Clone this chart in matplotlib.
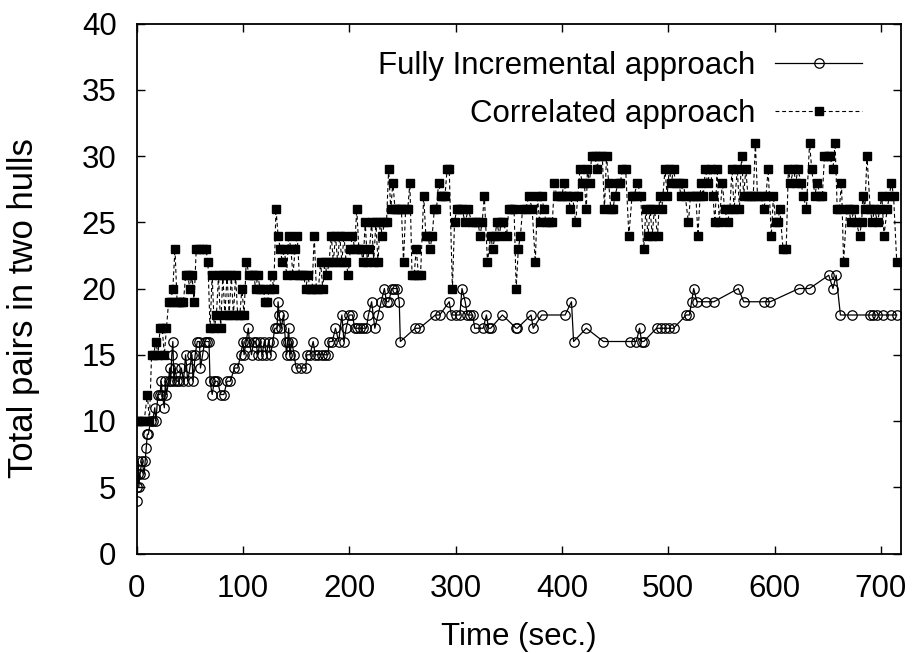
import matplotlib
matplotlib.use("Agg")
import matplotlib.pyplot as plt

plt.rcParams['font.family'] = ['Liberation Sans', 'DejaVu Sans']

# Fully Incremental approach (time, pairs)
inc_t = [0, 0.5, 1, 1.5, 2, 3, 5, 7, 8, 9, 10, 11, 13, 15, 17, 18, 20, 22, 23, 24, 26, 27, 28, 30, 31, 32, 33, 34, 35, 36,
         38, 40, 42, 44, 46, 48, 50, 52, 53, 55, 57, 59, 60, 62, 64, 66, 68, 69, 71, 73, 74, 76, 79, 82, 85, 88, 92, 95, 98, 100,
         101, 103, 105, 106, 108, 110, 112, 114, 116, 118, 120, 122, 124, 126, 128, 130, 132, 133, 134, 136, 138, 140, 141, 142, 143, 144, 146, 148, 150, 155,
         159, 160, 163, 166, 168, 171, 174, 177, 180, 181, 184, 187, 190, 193, 195, 197, 200, 203, 205, 207, 210, 213, 216, 218, 221, 224, 227, 230, 233, 235,
         237, 240, 242, 245, 247, 248, 262, 266, 281, 285, 294, 296, 300, 304, 306, 309, 311, 314, 316, 318, 326, 329, 331, 333, 344, 357, 358, 371, 373, 381,
         403, 409, 411, 423, 439, 464, 470, 473, 475, 477, 489, 493, 497, 501, 505, 517, 520, 522, 524, 527, 536, 543, 566, 571, 590, 596, 623, 633, 651, 655,
         658, 662, 673, 690, 693, 696, 702, 710, 715]
inc_v = [4, 5, 6, 7, 5, 6, 7, 6, 7, 8, 9, 9, 10, 10, 11, 10, 12, 12, 13, 12, 11, 13, 12, 13, 14, 13, 15, 16, 13, 14,
         13, 13, 14, 13, 15, 13, 14, 15, 13, 15, 16, 16, 14, 15, 16, 16, 16, 13, 12, 13, 13, 13, 12, 12, 13, 13, 14, 14, 15, 16,
         15, 16, 17, 16, 15, 16, 16, 15, 16, 15, 16, 15, 16, 15, 16, 17, 17, 19, 18, 17, 18, 16, 15, 16, 17, 15, 16, 15, 14, 14,
         14, 15, 15, 16, 15, 15, 15, 15, 15, 16, 16, 17, 16, 18, 16, 17, 18, 18, 17, 17, 17, 17, 17, 18, 19, 17, 18, 19, 20, 19,
         19, 20, 20, 20, 19, 16, 17, 17, 18, 18, 19, 18, 18, 18, 20, 19, 18, 18, 18, 17, 17, 18, 17, 17, 18, 17, 17, 18, 17, 18,
         18, 19, 16, 17, 16, 16, 16, 17, 16, 16, 17, 17, 17, 17, 17, 18, 18, 19, 20, 19, 19, 19, 20, 19, 19, 19, 20, 20, 21, 20,
         21, 18, 18, 18, 18, 18, 18, 18, 18]

# Correlated approach (time, pairs)
cor_t = [0, 2, 4, 7, 10, 12, 14, 16, 18, 20, 22, 24, 26, 28, 30, 32, 34, 36, 38, 40, 42, 44, 46, 48, 50, 52, 54, 56, 59, 62,
         65, 67, 69, 71, 73, 75, 77, 79, 81, 83, 85, 87, 89, 91, 93, 95, 97, 99, 101, 103, 106, 108, 110, 112, 114, 116, 119, 121, 123, 125,
         127, 129, 131, 133, 135, 137, 139, 141, 143, 145, 147, 149, 151, 153, 155, 157, 159, 161, 163, 165, 167, 169, 171, 173, 175, 177, 179, 181, 183, 185,
         187, 189, 191, 193, 195, 197, 199, 201, 203, 205, 207, 209, 211, 213, 215, 217, 219, 221, 223, 225, 227, 229, 231, 233, 235, 237, 239, 241, 243, 245,
         247, 249, 251, 253, 255, 257, 259, 261, 263, 265, 267, 270, 272, 274, 276, 278, 280, 282, 284, 286, 288, 290, 292, 294, 297, 299, 301, 303, 306, 309,
         312, 315, 318, 321, 323, 325, 327, 330, 333, 335, 337, 339, 341, 343, 345, 348, 350, 352, 355, 357, 359, 361, 363, 366, 369, 372, 375, 377, 379, 381,
         383, 385, 388, 391, 393, 395, 398, 400, 402, 404, 406, 408, 410, 413, 415, 417, 419, 421, 423, 424, 426, 428, 431, 433, 435, 438, 440, 442, 444, 446,
         448, 450, 453, 455, 457, 460, 463, 466, 468, 471, 474, 477, 479, 481, 483, 485, 487, 490, 492, 494, 497, 499, 501, 503, 505, 507, 510, 512, 514, 516,
         519, 521, 524, 526, 528, 530, 531, 533, 535, 537, 540, 542, 544, 546, 548, 551, 553, 556, 558, 560, 562, 565, 567, 569, 571, 573, 575, 578, 580, 582,
         584, 587, 590, 592, 594, 597, 599, 601, 603, 605, 608, 611, 613, 615, 618, 620, 622, 625, 627, 630, 633, 635, 638, 640, 643, 645, 647, 650, 652, 655,
         657, 659, 661, 663, 665, 668, 670, 672, 675, 677, 680, 682, 683, 685, 687, 690, 692, 694, 697, 699, 701, 703, 706, 708, 710, 712, 715]
cor_v = [10, 10, 10, 10, 12, 10, 15, 15, 16, 15, 17, 17, 15, 17, 19, 19, 20, 23, 19, 19, 19, 19, 21, 21, 20, 21, 19, 23, 23, 23,
         23, 22, 17, 21, 17, 18, 21, 17, 21, 18, 21, 18, 21, 18, 21, 18, 18, 20, 18, 22, 21, 21, 21, 20, 21, 20, 20, 19, 19, 20,
         21, 20, 26, 24, 23, 22, 23, 21, 24, 23, 21, 23, 24, 21, 21, 21, 20, 21, 20, 20, 24, 20, 20, 22, 20, 22, 21, 22, 24, 22,
         24, 22, 24, 22, 24, 22, 21, 23, 24, 23, 26, 23, 23, 22, 25, 22, 23, 25, 22, 25, 22, 25, 24, 25, 25, 29, 26, 28, 26, 26,
         26, 26, 22, 26, 26, 28, 21, 21, 23, 21, 21, 27, 24, 24, 23, 24, 26, 26, 28, 27, 27, 27, 29, 29, 20, 25, 26, 26, 26, 25,
         26, 25, 25, 25, 24, 25, 27, 22, 24, 23, 24, 25, 24, 25, 25, 24, 26, 26, 26, 20, 23, 24, 26, 26, 27, 26, 22, 27, 25, 27,
         26, 25, 25, 25, 28, 27, 27, 27, 28, 27, 27, 26, 27, 25, 27, 29, 28, 28, 26, 29, 28, 30, 30, 29, 30, 30, 26, 30, 28, 26,
         26, 27, 28, 28, 29, 29, 24, 27, 27, 28, 27, 23, 26, 24, 26, 24, 26, 24, 27, 26, 29, 27, 29, 28, 29, 28, 28, 27, 28, 27,
         25, 27, 27, 27, 24, 27, 28, 27, 29, 28, 29, 27, 25, 29, 25, 28, 26, 25, 26, 29, 26, 29, 26, 30, 27, 29, 27, 27, 27, 31,
         27, 27, 26, 27, 29, 24, 27, 25, 25, 26, 23, 23, 29, 28, 29, 28, 29, 28, 27, 26, 31, 29, 27, 28, 27, 27, 30, 30, 30, 29,
         31, 26, 26, 28, 22, 26, 26, 25, 26, 25, 24, 25, 27, 26, 30, 26, 25, 26, 25, 26, 27, 24, 26, 27, 28, 27, 22]

x_ticks = [0, 100, 200, 300, 400, 500, 600, 700]
y_ticks = [0, 5, 10, 15, 20, 25, 30, 35, 40]

FS = 22.5

fig = plt.figure(figsize=(9.15, 6.53), dpi=100)
ax = fig.add_axes([136.7/915, 1 - 553.5/653, (901 - 136.7)/915, (553.5 - 23.5)/653])

ax.plot(inc_t, inc_v, color='black', lw=0.9, marker='o', ms=6.8, mfc='none',
        mec='black', mew=0.9, label='Fully Incremental approach', zorder=3)
ax.plot(cor_t, cor_v, color='black', lw=0.8, ls=(0, (3.5, 2.5)), marker='s', ms=6.0,
        mfc='black', mec='black', label='Correlated approach', zorder=2)

ax.set_xlim(0, 719)
ax.set_ylim(0, 40)
ax.set_xticks(x_ticks)
ax.set_yticks(y_ticks)
ax.tick_params(direction='in', length=6, width=1, labelsize=FS, top=True, right=True, pad=14.5)
for s in ax.spines.values():
    s.set_linewidth(1.3)

ax.set_xlabel('Time (sec.)', fontsize=FS, labelpad=13)
ax.set_ylabel('Total pairs in two hulls', fontsize=25)
ax.yaxis.set_label_coords(-0.1265, 0.463)

ax.legend(loc='upper right', bbox_to_anchor=(0.949, 0.949), frameon=False, fontsize=FS,
          markerfirst=False, numpoints=1, handlelength=2.78, handletextpad=0.64,
          labelspacing=0.6, borderpad=0, borderaxespad=0)

fig.savefig('out.png', dpi=100)
